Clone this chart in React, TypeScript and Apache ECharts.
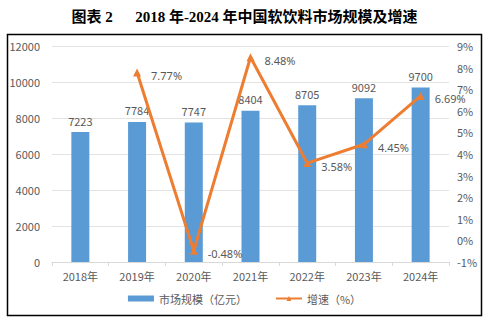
import React, { useEffect, useRef } from "react";
import * as echarts from "echarts";

const categories = ["2018年", "2019年", "2020年", "2021年", "2022年", "2023年", "2024年"];
const marketSize = [7223, 7784, 7747, 8404, 8705, 9092, 9700];
const growth: (number | null)[] = [null, 7.77, -0.48, 8.48, 3.58, 4.45, 6.69];

const TEXT = "#595959";
const FONT = "'Noto Sans CJK SC', 'Noto Sans', sans-serif";

export default function App() {
  const ref = useRef<HTMLDivElement>(null);
  useEffect(() => {
    if (!ref.current) return;
    const chart = echarts.init(ref.current, undefined, { renderer: "svg" });
    chart.setOption({
      animation: false,
      backgroundColor: "#ffffff",
      title: {
        text: "图表 2      2018 年-2024 年中国软饮料市场规模及增速",
        left: "center",
        top: 4,
        textStyle: {
          fontFamily: "'Liberation Serif', 'Noto Sans CJK SC', serif",
          fontWeight: "bold",
          fontSize: 15,
          color: "#000",
        },
      },
      graphic: [
        {
          type: "rect",
          shape: { x: 7.5, y: 34.5, width: 474, height: 281 },
          style: { fill: "none", stroke: "#000", lineWidth: 1.5 },
          silent: true,
        },
      ],
      grid: { left: 52, right: 40, top: 46, bottom: 60 },
      legend: {
        bottom: 13,
        left: "center",
        itemWidth: 26,
        itemHeight: 6,
        itemGap: 28,
        textStyle: { color: TEXT, fontSize: 11, fontFamily: FONT },
        data: [
          { name: "市场规模（亿元）", icon: "rect" },
          { name: "增速（%）" },
        ],
      },
      xAxis: {
        type: "category",
        data: categories,
        axisLine: { lineStyle: { color: "#d9d9d9" } },
        axisTick: { show: true, length: 4, lineStyle: { color: "#d9d9d9" } },
        axisLabel: { color: TEXT, fontSize: 11, fontFamily: FONT, margin: 8 },
      },
      yAxis: [
        {
          type: "value",
          min: 0,
          max: 12000,
          interval: 2000,
          axisLine: { show: false },
          axisTick: { show: false },
          splitLine: { lineStyle: { color: "#e3e3e3" } },
          axisLabel: {
            color: TEXT,
            fontSize: 11,
            fontFamily: FONT,
            margin: 12,
            formatter: (v: number) => String(v),
          },
        },
        {
          type: "value",
          min: -1,
          max: 9,
          interval: 1,
          axisLine: { show: false },
          axisTick: { show: false },
          splitLine: { show: false },
          axisLabel: { color: TEXT, fontSize: 11, fontFamily: FONT, margin: 8, formatter: "{value}%" },
        },
      ],
      series: [
        {
          name: "市场规模（亿元）",
          type: "bar",
          data: marketSize,
          barWidth: 18,
          itemStyle: { color: "#5B9BD5" },
          label: {
            show: true,
            position: "top",
            distance: 6,
            color: TEXT,
            fontSize: 11,
            fontFamily: FONT,
          },
        },
        {
          name: "增速（%）",
          type: "line",
          yAxisIndex: 1,
          data: growth,
          symbol: "triangle",
          symbolSize: 8,
          lineStyle: { color: "#ED7D31", width: 3 },
          itemStyle: { color: "#ED7D31" },
          label: {
            show: true,
            position: "right",
            distance: 10,
            offset: [0, 3],
            color: TEXT,
            fontSize: 11,
            fontFamily: "'Noto Sans', sans-serif",
            formatter: (p: any) => p.value.toFixed(2) + "%",
          },
          z: 3,
        },
      ],
    });
    return () => chart.dispose();
  }, []);
  return <div ref={ref} style={{ width: 489, height: 322, position: "absolute", left: 0, top: 0 }} />;
}
